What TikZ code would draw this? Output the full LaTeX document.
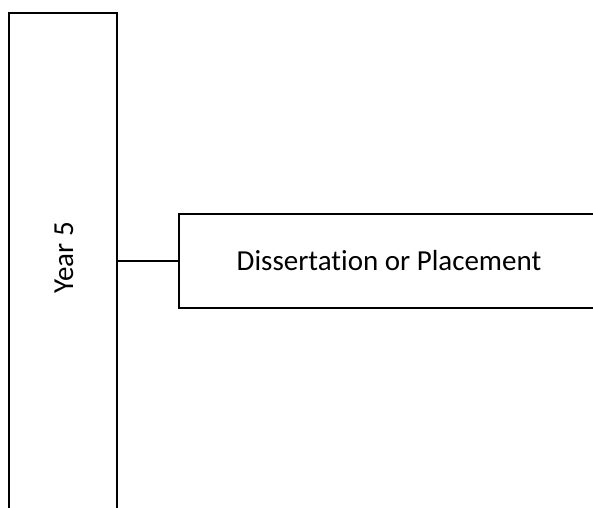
\documentclass[tikz,border=0pt]{standalone}
\usepackage{fontspec}
\setmainfont{Carlito}[Ligatures=NoCommon]
\begin{document}
\begin{tikzpicture}[x=1pt,y=-1pt,
  box/.style={draw=black,line width=2pt,inner sep=0pt,fill=white},
  lbl/.style={font=\fontsize{29}{34}\selectfont,inner sep=0pt,text=black}]
\useasboundingbox (0,0) rectangle (593,507);
\clip (0,0) rectangle (593,507);
\node[box,minimum width=108pt,minimum height=560pt] (y5) at (63,293) {};
\node[box,minimum width=431pt,minimum height=94pt] (dp) at (394.5,261) {};
\node[lbl,rotate=90] (y5t) at (64,258) {Year 5};
\node[lbl] (dpt) at (389,261) {Dissertation or Placement};
\draw[line width=2pt] (y5.east |- dp.west) -- (dp.west);
\end{tikzpicture}
\end{document}
